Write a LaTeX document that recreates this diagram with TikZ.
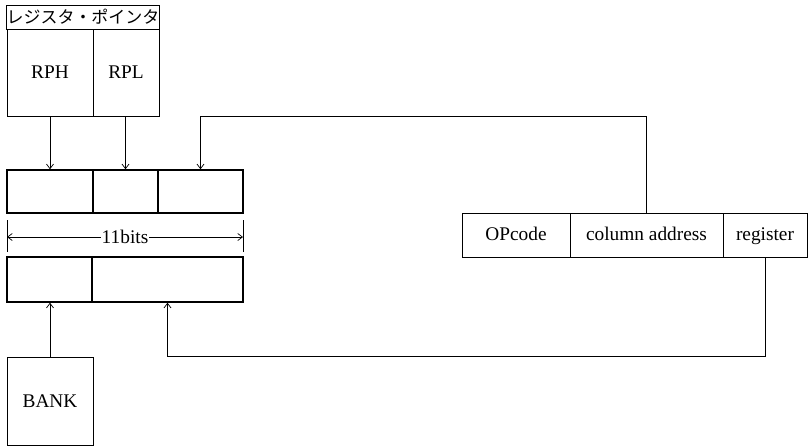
\documentclass[tikz,border=0pt]{standalone}
\usepackage{fontspec}
\setmainfont{Liberation Serif}
\newfontfamily\jpfont{Noto Sans CJK JP}
\usetikzlibrary{positioning, calc, arrows.meta}

\tikzset{
  cell/.style={draw, line width=1.2pt, inner sep=0pt, minimum height=1.29cm},
  lowcell/.style={draw, line width=1.2pt, inner sep=0pt, minimum height=1.35cm},
  ptr/.style={draw, line width=0.8pt, inner sep=0pt},
  field/.style={draw, line width=0.8pt, inner sep=0pt, minimum height=1.32cm, text height=2.2ex, text depth=0.3ex},
  link/.style={line width=0.6pt, ->, >={Straight Barb[length=4pt, width=6pt]}}
}

\begin{document}
\begin{tikzpicture}[x=0.03cm, y=-0.03cm, font=\fontsize{16.5}{19}\selectfont]
\useasboundingbox (0, 0) rectangle (810, 447);

% register pointer
\node[ptr, minimum width=4.56cm, minimum height=0.72cm] (title) at (83, 17) {\jpfont\fontsize{14.5}{16}\selectfont レジスタ・ポインタ};
\node[ptr, minimum width=2.58cm, minimum height=2.61cm] (rph) at (50, 72.5) {RPH};
\node[ptr, minimum width=1.98cm, minimum height=2.61cm] (rpl) at (126, 72.5) {RPL};

% upper register
\node[cell, minimum width=2.58cm] (up1) at (50, 191.5) {};
\node[cell, minimum width=1.95cm] (up2) at (125.5, 191.5) {};
\node[cell, minimum width=2.55cm] (up3) at (200.5, 191.5) {};

% width
\draw[line width=0.6pt] (7, 220) -- (7, 252);
\draw[line width=0.6pt] (243, 220) -- (243, 252);
\coordinate (wl) at (7, 237);
\coordinate (wr) at (243, 237);
\draw[line width=0.6pt, <->, >={Straight Barb[length=4pt, width=6pt]}] (wl) -- node[fill=white, inner sep=1pt] {11bits} (wr);

% lower register
\node[lowcell, minimum width=2.55cm] (lo1) at (49.5, 279.5) {};
\node[lowcell, minimum width=4.53cm] (lo2) at (167.5, 279.5) {};

\node[ptr, minimum width=2.58cm, minimum height=2.64cm] (bank) at (50, 401) {BANK};

% instruction
\node[field, minimum width=3.24cm] (op) at (516, 235) {OPcode};
\node[field, minimum width=4.59cm] (col) at (646.5, 235) {column address};
\node[field, minimum width=2.52cm] (reg) at (765, 235) {register};

\draw[link] (rph.south) -- (rph.south |- up1.north);
\draw[link] (rpl.south -| up2.north) -- (up2.north);
\draw[link] (col.north) |- (up3.north |- rpl.south) -- (up3.north);
\draw[link] (bank.north) -- (bank.north |- lo1.south);
\draw[link] (reg.south) |- (lo2.south |- bank.north) -- (lo2.south);

\end{tikzpicture}
\end{document}
